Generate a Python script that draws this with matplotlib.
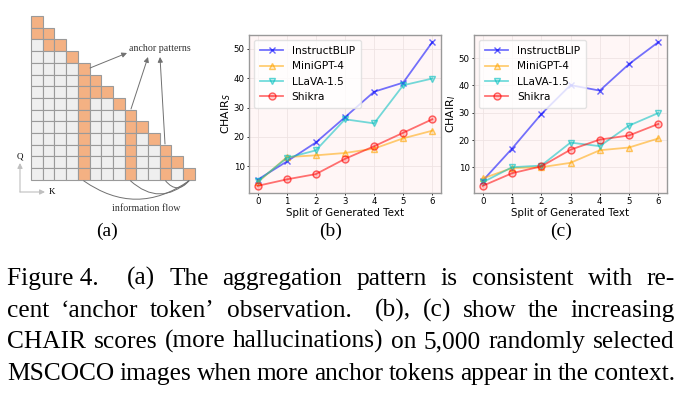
import matplotlib
matplotlib.use("Agg")
import matplotlib.pyplot as plt
from matplotlib.colors import to_rgba
from matplotlib.patches import Rectangle, FancyArrowPatch

# data
splits = [0, 1, 2, 3, 4, 5, 6]
models = ["InstructBLIP", "MiniGPT-4", "LLaVA-1.5", "Shikra"]
chair_s = {
    "InstructBLIP": [5.4, 11.6, 18.1, 26.7, 35.4, 38.5, 52.3],
    "MiniGPT-4": [4.5, 13.1, 13.7, 14.5, 16.0, 19.5, 22.1],
    "LLaVA-1.5": [4.8, 12.8, 15.4, 26.0, 24.6, 37.6, 39.9],
    "Shikra": [3.3, 5.5, 7.3, 12.5, 16.8, 21.4, 26.0],
}
chair_i = {
    "InstructBLIP": [5.2, 16.9, 29.5, 40.1, 38.1, 47.8, 55.8],
    "MiniGPT-4": [6.0, 9.8, 10.1, 11.7, 16.3, 17.3, 20.6],
    "LLaVA-1.5": [4.6, 10.1, 10.7, 19.1, 17.8, 25.3, 29.9],
    "Shikra": [3.3, 7.9, 10.4, 16.5, 20.2, 21.7, 25.9],
}
colors = {"InstructBLIP": "blue", "MiniGPT-4": "orange",
          "LLaVA-1.5": "c", "Shikra": "red"}
markers = {"InstructBLIP": "x", "MiniGPT-4": "^",
           "LLaVA-1.5": "v", "Shikra": "o"}

# attention map pattern for panel (a): orange cells per query row
n_tok = 14
orange_cells = [[0], [0, 1], [1, 2], [3], [4], [4, 5], [4, 5, 6], [4, 7],
                [4, 8], [4, 8, 9], [4, 8, 10], [4, 8, 11], [4, 8, 11, 12],
                [4, 8, 11, 13]]
anchor_cols = [4, 8, 11]

caption = [
    ["Figure 4.", "", "(a)", "The", "aggregation", "pattern", "is", "consistent", "with", "re-"],
    ["cent", "\u2018anchor", "token\u2019", "observation.", "", "(b),", "(c)", "show", "the", "increasing"],
    ["CHAIR", "scores", "(more", "hallucinations)", "on", "5,000", "randomly", "selected"],
    ["MSCOCO", "images", "when", "more", "anchor", "tokens", "appear", "in", "the", "context."],
]

W, H = 682, 394
fig = plt.figure(figsize=(W / 100, H / 100), dpi=100)

# overlay in pixel coordinates for the diagram and texts
ov = fig.add_axes([0, 0, 1, 1])
ov.set_xlim(0, W)
ov.set_ylim(H, 0)
ov.axis("off")

x0, y0, cs = 31, 16, 11.7
for r in range(n_tok):
    for c in range(r + 1):
        fc = "#f4b183" if c in orange_cells[r] else "#efefef"
        ov.add_patch(Rectangle((x0 + c * cs, y0 + r * cs), cs, cs,
                               facecolor=fc, edgecolor="#9a9a9a", lw=0.8))

grey = "#707070"
head = "-|>,head_length=3,head_width=1.5"
ov.text(160, 48, "anchor patterns", family="Liberation Serif", fontsize=7.2,
        ha="center", va="center", color="#333333")
for (sx, sy), (ex, ey) in [((90, 68), (127, 53)), ((131, 109), (148, 57)),
                           ((165, 144), (160, 57))]:
    ov.add_patch(FancyArrowPatch((sx, sy), (ex, ey), arrowstyle=head,
                                 color=grey, lw=0.7, shrinkA=0, shrinkB=0))

end = (x0 + 13.5 * cs, y0 + n_tok * cs + 1)
for c, rad in zip(anchor_cols, [0.35, 0.45, 0.6]):
    start = (x0 + (c + 0.5) * cs, y0 + n_tok * cs + 1)
    ov.add_patch(FancyArrowPatch(start, end, connectionstyle=f"arc3,rad={rad}",
                                 arrowstyle="-", color=grey, lw=0.7,
                                 shrinkA=0, shrinkB=0))
ov.text(146, 208, "information flow", family="Liberation Serif", fontsize=7.2,
        ha="center", va="center", color="#333333")

# Q / K axes sketch
ov.add_patch(FancyArrowPatch((20, 192), (20, 163), arrowstyle=head,
                             color="#c0c0c0", lw=0.8, shrinkA=0, shrinkB=0))
ov.add_patch(FancyArrowPatch((20, 192), (45, 192), arrowstyle=head,
                             color="#c0c0c0", lw=0.8, shrinkA=0, shrinkB=0))
ov.text(20, 156, "Q", family="Liberation Serif", fontsize=6.5, ha="center", va="center")
ov.text(52, 192, "K", family="Liberation Serif", fontsize=6.5, ha="center", va="center")

for lab, x in [("(a)", 107), ("(b)", 331), ("(c)", 561)]:
    ov.text(x, 231, lab, family="Liberation Serif", fontsize=14,
            ha="center", va="center")


def line_panel(rect, data, ylab):
    ax = fig.add_axes(rect)
    ax.set_facecolor("#fff6f6")
    for m in models:
        ax.plot(splits, data[m], color=to_rgba(colors[m], 0.55),
                marker=markers[m], mfc=to_rgba(colors[m], 0.2),
                mec=to_rgba(colors[m], 0.6), mew=1.0,
                lw=1.3, ms=5, label=m)
    ax.grid(True, color="#efe3e3", lw=0.6)
    ax.set_axisbelow(True)
    ax.set_xticks(splits)
    ax.set_yticks([10, 20, 30, 40, 50])
    ax.tick_params(labelsize=6.2, length=1.5, width=0.6, pad=1.5)
    for s in ax.spines.values():
        s.set_color("#999999")
        s.set_linewidth(1.0)
    ax.set_xlabel("Split of Generated Text", fontsize=7.4, labelpad=1)
    ax.set_ylabel(ylab, fontsize=7.8, labelpad=0.5)
    ax.legend(loc="upper left", fontsize=7.6, handlelength=2.2,
              borderpad=0.55, labelspacing=0.5, framealpha=0.8,
              edgecolor="#dddddd")
    return ax


line_panel([249 / W, 1 - 193 / H, 192 / W, 158 / H], chair_s, "CHAIR$_S$")
line_panel([474 / W, 1 - 193 / H, 193 / W, 158 / H], chair_i, "CHAIR$_I$")

# justified caption
renderer = fig.canvas.get_renderer()
fs = 18.3
left, right = 7, 675
baselines = [285, 317, 348, 380]
for words, yb in zip(caption, baselines):
    arts, widths = [], []
    for w in words:
        if w == "":
            continue
        t = ov.text(0, yb, w, family="Liberation Serif", fontsize=fs,
                    va="baseline", ha="left")
        arts.append(t)
        widths.append(t.get_window_extent(renderer).width)
    weights = []
    idx = [i for i, w in enumerate(words) if w != ""]
    for a, b in zip(idx[:-1], idx[1:]):
        weights.append(2.0 if b - a > 1 else 1.0)
    gap = (right - left - sum(widths)) / sum(weights)
    x = left
    for i, t in enumerate(arts):
        t.set_x(x)
        if i < len(weights):
            x += widths[i] + gap * weights[i]

fig.savefig("out.png", dpi=100)
